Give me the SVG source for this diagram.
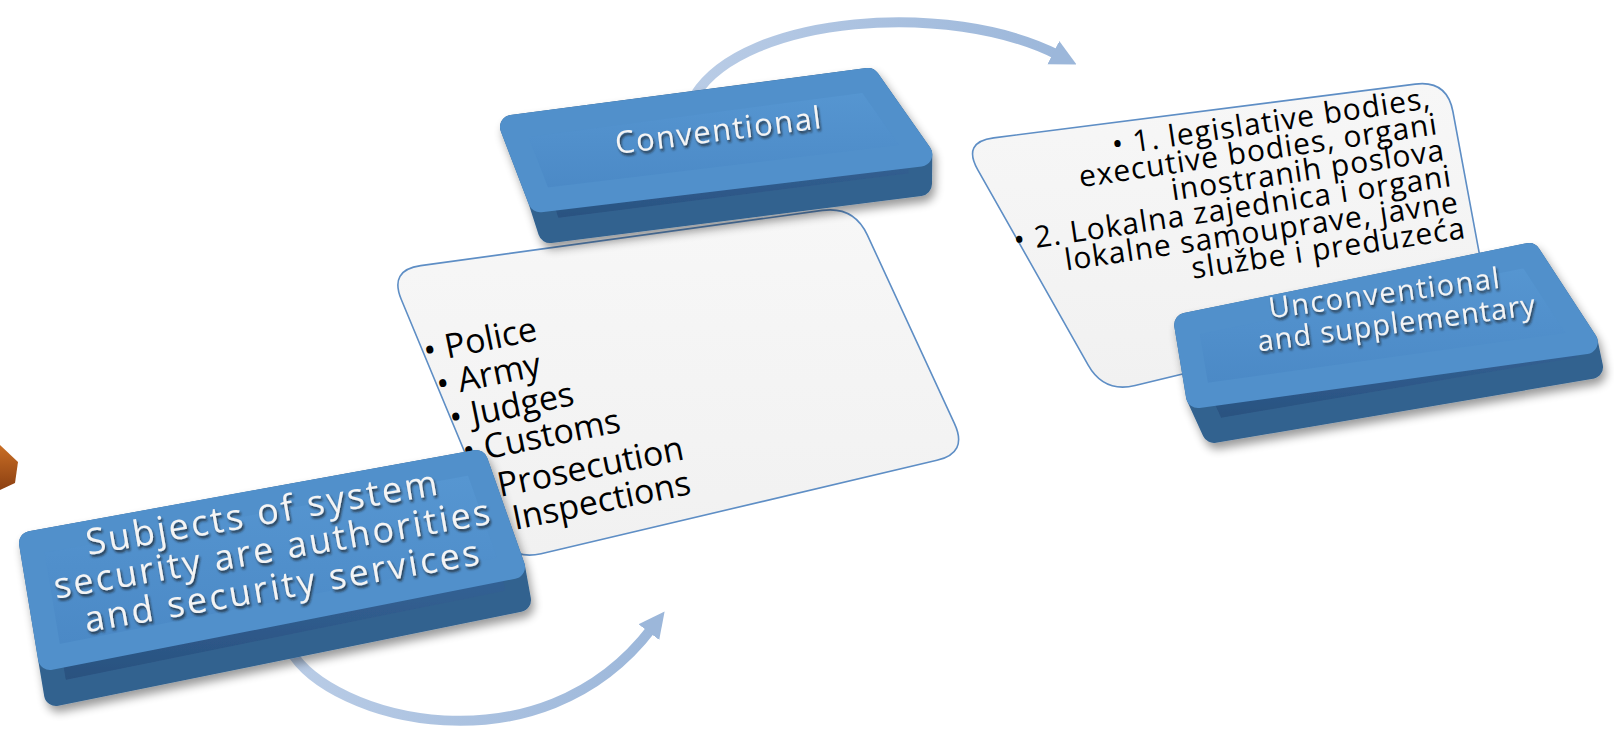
<svg xmlns="http://www.w3.org/2000/svg" width="1614" height="730" viewBox="0 0 1614 730">
<defs>
<style>
.side{stroke-width:24;stroke-linejoin:round}
.top{stroke-width:24;stroke-linejoin:round}
.slabtxt{font-family:"Open Sans","Liberation Sans",sans-serif;fill:#f4f4f4;text-anchor:middle;filter:url(#ts)}
.list{font-family:"Open Sans","Liberation Sans",sans-serif;fill:#000;font-size:34px}
.list2{font-family:"Open Sans","Liberation Sans",sans-serif;fill:#000;text-anchor:end;font-size:30px;letter-spacing:1px}
.card{fill:url(#cardGrad);stroke:#5E8EC5;stroke-width:1.6}
.arc{fill:none;stroke-width:10;stroke-linecap:butt}
</style>
<linearGradient id="sideGrad" x1="0" y1="0" x2="0" y2="1">
<stop offset="0" stop-color="#3E74AD"/><stop offset="1" stop-color="#284F7C"/>
</linearGradient>
<linearGradient id="topGrad" x1="0" y1="0" x2="0" y2="1">
<stop offset="0" stop-color="#5797D2"/><stop offset="1" stop-color="#4A88C5"/>
</linearGradient>
<linearGradient id="cardGrad" x1="0" y1="0" x2="0" y2="1">
<stop offset="0" stop-color="#F7F7F7"/><stop offset="1" stop-color="#F1F1F1"/>
</linearGradient>
<linearGradient id="arcTop" gradientUnits="userSpaceOnUse" x1="695" y1="0" x2="1060" y2="0">
<stop offset="0" stop-color="#B9CCE6"/><stop offset="1" stop-color="#9CB7DA"/>
</linearGradient>
<linearGradient id="arcBot" gradientUnits="userSpaceOnUse" x1="290" y1="0" x2="660" y2="0">
<stop offset="0" stop-color="#B9CCE6"/><stop offset="1" stop-color="#9CB7DA"/>
</linearGradient>
<linearGradient id="orangeGrad" x1="0" y1="0" x2="0" y2="1">
<stop offset="0" stop-color="#C96E25"/><stop offset="1" stop-color="#8C4012"/>
</linearGradient>
<marker id="ah" viewBox="0 0 10 10" refX="2" refY="5" markerWidth="26" markerHeight="28" markerUnits="userSpaceOnUse" orient="auto">
<path d="M0,0 L10,5 L0,10 Z" fill="#9CB7DA"/>
</marker>
<filter id="shadow" x="-10%" y="-20%" width="125%" height="150%">
<feGaussianBlur in="SourceAlpha" stdDeviation="5"/>
<feOffset dx="3" dy="6"/>
<feComponentTransfer><feFuncA type="linear" slope="0.4"/></feComponentTransfer>
<feMerge><feMergeNode/><feMergeNode in="SourceGraphic"/></feMerge>
</filter>
<filter id="ts" x="-10%" y="-30%" width="120%" height="160%">
<feDropShadow dx="1.5" dy="2.5" stdDeviation="1.2" flood-color="#1a1a1a" flood-opacity="0.75"/>
</filter>
<path id="tConv" d="M 373 185 L 1067 97"/>
<path id="tUnc1" d="M 1039.1 348.9 L 1732.9 257.1"/>
<path id="tUnc2" d="M 1051.1 378.9 L 1744.9 287.1"/>
<path id="tSub1" d="M -80.1 584 L 610.1 465"/>
<path id="tSub2" d="M -70.1 620.5 L 620.1 501.5"/>
<path id="tSub3" d="M -60.1 657.5 L 630.1 538.5"/>
<path id="tL1" d="M 426 363 L 818 283"/>
<path id="tL2" d="M 439 396.5 L 831 316.5"/>
<path id="tL3" d="M 452 430 L 844 350"/>
<path id="tL4" d="M 465 463.5 L 857 383.5"/>
<path id="tL5" d="M 500 497 L 892 417"/>
<path id="tL6" d="M 515 530 L 907 450"/>
<path id="tR1" d="M 838.6 196.2 L 1432 108"/>
<path id="tR2" d="M 845.6 222.2 L 1439 134"/>
<path id="tR3" d="M 852.6 248.2 L 1446 160"/>
<path id="tR4" d="M 859.6 274.2 L 1453 186"/>
<path id="tR5" d="M 866.6 300.2 L 1460 212"/>
<path id="tR6" d="M 873.6 326.2 L 1467 238"/>
</defs>
<rect width="1614" height="730" fill="#ffffff"/>

<g id="connectors">
<path class="arc" d="M 695 95 C 745 15, 950 0, 1058 55" stroke="url(#arcTop)" marker-end="url(#ah)"/>
<path class="arc" d="M 290 650 C 330 720, 540 775, 652 628" stroke="url(#arcBot)" marker-end="url(#ah)"/>
</g>

<g id="node-conventional-list">
<path class="card" d="M 420.7 265.6 L 822.3 210.4 Q 854 206 867.4 235.1 L 954.6 423.9 Q 968 453 936.9 460.3 L 541.1 553.7 Q 510 561 497.7 531.5 L 401.3 299.5 Q 389 270 420.7 265.6 Z"/>
<text class="list"><textPath href="#tL1">• Police</textPath></text>
<text class="list"><textPath href="#tL2">• Army</textPath></text>
<text class="list"><textPath href="#tL3">• Judges</textPath></text>
<text class="list"><textPath href="#tL4">• Customs</textPath></text>
<text class="list"><textPath href="#tL5">Prosecution</textPath></text>
<text class="list"><textPath href="#tL6">Inspections</textPath></text>
</g>

<g id="node-unconventional-list">
<path class="card" d="M 993.7 137.9 L 1415.3 84.1 Q 1447 80 1452.9 111.5 L 1482.1 268.5 Q 1488 300 1456.9 307.5 L 1135.1 385.5 Q 1104 393 1088.2 365.1 L 977.8 169.8 Q 962 142 993.7 137.9 Z"/>
<text class="list2"><textPath href="#tR1" startOffset="100%">• 1. legislative bodies,</textPath></text>
<text class="list2"><textPath href="#tR2" startOffset="100%">executive bodies, organi</textPath></text>
<text class="list2"><textPath href="#tR3" startOffset="100%">inostranih poslova</textPath></text>
<text class="list2"><textPath href="#tR4" startOffset="100%">• 2. Lokalna zajednica i organi</textPath></text>
<text class="list2"><textPath href="#tR5" startOffset="100%">lokalne samouprave, javne</textPath></text>
<text class="list2"><textPath href="#tR6" startOffset="100%">službe i preduzeća</textPath></text>
</g>

<g id="node-conventional">
<polygon class="side" filter="url(#shadow)" fill="url(#sideGrad)" stroke="#33628F" points="512,127 868,80 920.3,154.5 920,184 550,231 540.1,200.3"/>
<polygon class="top" fill="url(#topGrad)" stroke="#5190CB" points="512,127 868,80 920.3,154.5 540.1,200.3"/>
<text class="slabtxt" font-size="31" letter-spacing="1.5"><textPath href="#tConv" startOffset="50%">Conventional</textPath></text>
</g>

<g id="node-unconventional">
<polygon class="side" filter="url(#shadow)" fill="url(#sideGrad)" stroke="#33628F" points="1186.2,324.8 1529,255 1585.8,342.1 1591,367 1214,431 1198,396.1"/>
<polygon class="top" fill="url(#topGrad)" stroke="#5190CB" points="1186.2,324.8 1529,255 1585.8,342.1 1198,396.1"/>
<text class="slabtxt" font-size="29" letter-spacing="1.5"><textPath href="#tUnc1" startOffset="50%">Unconventional</textPath></text>
<text class="slabtxt" font-size="29" letter-spacing="1"><textPath href="#tUnc2" startOffset="50%">and supplementary</textPath></text>
</g>

<g id="node-subjects">
<polygon class="side" filter="url(#shadow)" fill="url(#sideGrad)" stroke="#33628F" points="31,543 476,462 513,567 519,600 56,694 50,658"/>
<polygon class="top" fill="url(#topGrad)" stroke="#5190CB" points="31,543 476,462 513,567 50,658"/>
<text class="slabtxt" font-size="36" letter-spacing="2.6"><textPath href="#tSub1" startOffset="50%">Subjects of system</textPath></text>
<text class="slabtxt" font-size="36" letter-spacing="2.4"><textPath href="#tSub2" startOffset="50%">security are authorities</textPath></text>
<text class="slabtxt" font-size="36" letter-spacing="2.6"><textPath href="#tSub3" startOffset="50%">and security services</textPath></text>
</g>

<g id="node-orange">
<polygon points="0,445 18,462 15,483 0,490" fill="url(#orangeGrad)"/>
</g>
</svg>
